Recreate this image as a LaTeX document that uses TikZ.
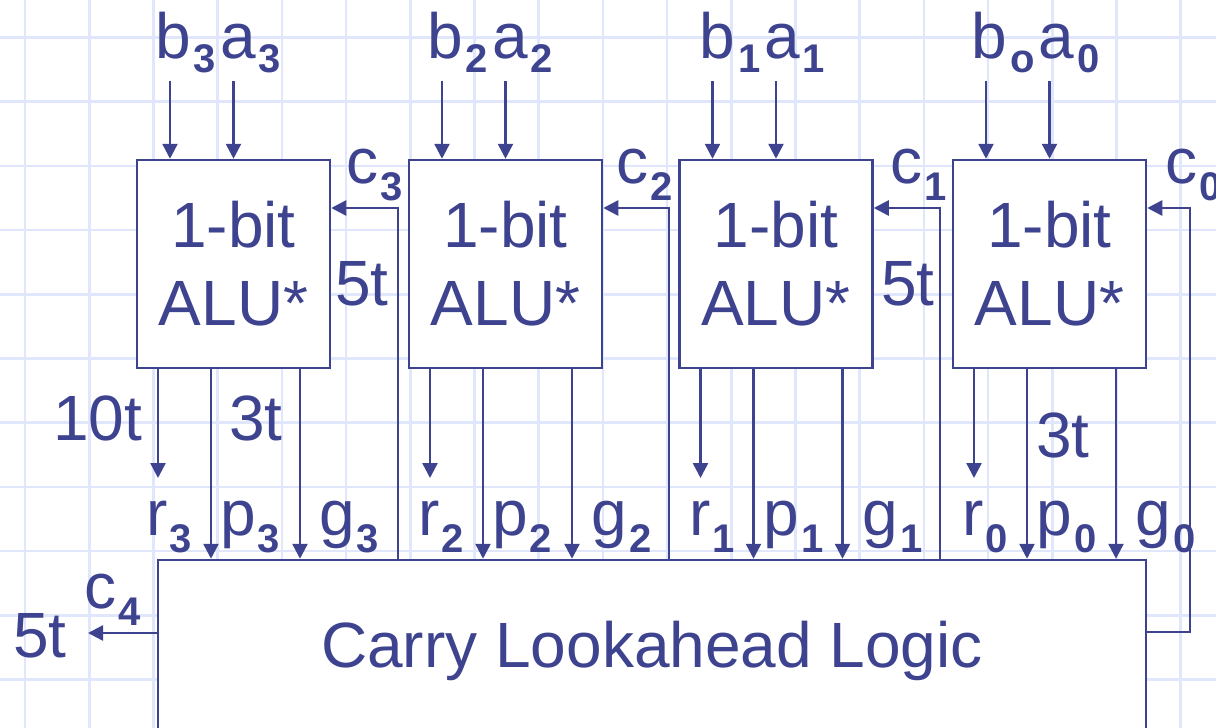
\documentclass[tikz,border=0pt]{standalone}
\usepackage{fontspec}
\setmainfont{Liberation Sans}
\usetikzlibrary{arrows.meta}
\definecolor{ink}{RGB}{62,67,143}
\definecolor{gridc}{RGB}{224,231,252}
\newcommand{\lsub}[1]{\kern1pt\raisebox{-8.5pt}{\fontsize{20}{20}\selectfont\bfseries #1}\kern1pt}
\newcommand{\tsub}[1]{\kern1.5pt\raisebox{-7pt}{\fontsize{20}{20}\selectfont\bfseries #1}\kern2pt}
\begin{document}
\begin{tikzpicture}[x=0.5pt,y=-0.5pt,
  every node/.style={text=ink, inner sep=0pt, font=\fontsize{32}{39}\selectfont},
  wire/.style={draw=ink, line width=1.25pt},
  arr/.style={wire, -{Triangle[length=7.5pt,width=7.5pt]}},
  alubox/.style={draw=ink, line width=1.25pt, fill=white, minimum width=96.5pt, minimum height=104pt, align=center},
  cllbox/.style={draw=ink, line width=1.25pt, fill=white, minimum width=494pt, minimum height=91pt},
  lbl/.style={anchor=base west},
  gridline/.style={draw=gridc, line width=1.3pt}
]
\useasboundingbox (0,0) rectangle (1216,728);
\fill[white] (0,0) rectangle (1216,728);
% background grid
\foreach \i in {0,...,18} \draw[gridline] ({25+64.2*\i},0) -- ({25+64.2*\i},728);
\foreach \k in {0,...,10} \draw[gridline] (0,{37.5+64.2*\k}) -- (1216,{37.5+64.2*\k});

% boxes
\node[alubox] (alu3) at (233.5,264) {1-bit\\ALU*};
\node[alubox] (alu2) at (505.5,264) {1-bit\\ALU*};
\node[alubox] (alu1) at (776,264) {1-bit\\ALU*};
\node[alubox] (alu0) at (1049.5,264) {1-bit\\ALU*};
\node[cllbox] (cll) at (652,651) {Carry Lookahead Logic};

% inputs and outputs of each ALU
\foreach \n in {3,2,1,0} {
  \path (alu\n.center) ++(-63.5,-183) coordinate (b\n in);
  \path (alu\n.center) ++(0,-183) coordinate (a\n in);
  \draw[arr] (b\n in) -- (b\n in |- alu\n.north);
  \draw[arr] (a\n in) -- (a\n in |- alu\n.north);
  \path (alu\n.center) ++(-75.5,214) coordinate (r\n end);
  \path (alu\n.south) ++(-22.5,0) coordinate (p\n top);
  \path (alu\n.south) ++(66.5,0) coordinate (g\n top);
  \draw[arr] (r\n end |- alu\n.south) -- (r\n end);
  \draw[arr] (p\n top) -- (p\n top |- cll.north);
  \draw[arr] (g\n top) -- (g\n top |- cll.north);
}

% carries
\coordinate (c3turn) at (398,208);
\coordinate (c2turn) at (669,208);
\coordinate (c1turn) at (940,208);
\coordinate (c0turn) at (1190,208);
\coordinate (c0low) at (1190,632);
\coordinate (c4end) at (88,633);
\draw[arr] (c3turn |- cll.north) -- (c3turn) -- (c3turn -| alu3.east);
\draw[arr] (c2turn |- cll.north) -- (c2turn) -- (c2turn -| alu2.east);
\draw[arr] (c1turn |- cll.north) -- (c1turn) -- (c1turn -| alu1.east);
\draw[arr] (c0low -| cll.east) -- (c0low) -- (c0turn) -- (c0turn -| alu0.east);
\draw[arr] (c4end -| cll.west) -- (c4end);

% input labels
\node[lbl] (lab3) at (155,58) {b\tsub{3}a\tsub{3}};
\node[lbl] (lab2) at (427,58) {b\tsub{2}a\tsub{2}};
\node[lbl] (lab1) at (699,58) {b\tsub{1}a\tsub{1}};
\node[lbl] (lab0) at (971,58) {b\tsub{o}a\tsub{0}};

% output labels
\node[lbl] (r3l) at (146,535) {r\lsub{3}};
\node[lbl] (p3l) at (220,535) {p\lsub{3}};
\node[lbl] (g3l) at (319,535) {g\lsub{3}};
\node[lbl] (r2l) at (418,535) {r\lsub{2}};
\node[lbl] (p2l) at (492,535) {p\lsub{2}};
\node[lbl] (g2l) at (591,535) {g\lsub{2}};
\node[lbl] (r1l) at (689,535) {r\lsub{1}};
\node[lbl] (p1l) at (763,535) {p\lsub{1}};
\node[lbl] (g1l) at (862,535) {g\lsub{1}};
\node[lbl] (r0l) at (962,535) {r\lsub{0}};
\node[lbl] (p0l) at (1036,535) {p\lsub{0}};
\node[lbl] (g0l) at (1135,535) {g\lsub{0}};

% carry labels
\node[lbl] (c3l) at (346,183) {c\lsub{3}};
\node[lbl] (c2l) at (616,183) {c\lsub{2}};
\node[lbl] (c1l) at (890,183) {c\lsub{1}};
\node[lbl] (c0l) at (1165,183) {c\lsub{0}};
\node[lbl] (c4l) at (84,608) {c\lsub{4}};

% delays
\node[lbl] (d10) at (53,440) {10t};
\node[lbl] (d3a) at (229,440) {3t};
\node[lbl] (d3b) at (1036,457) {3t};
\node[lbl] (d5a) at (335,305) {5t};
\node[lbl] (d5b) at (881,305) {5t};
\node[lbl] (d5c) at (13,657) {5t};
\end{tikzpicture}
\end{document}
